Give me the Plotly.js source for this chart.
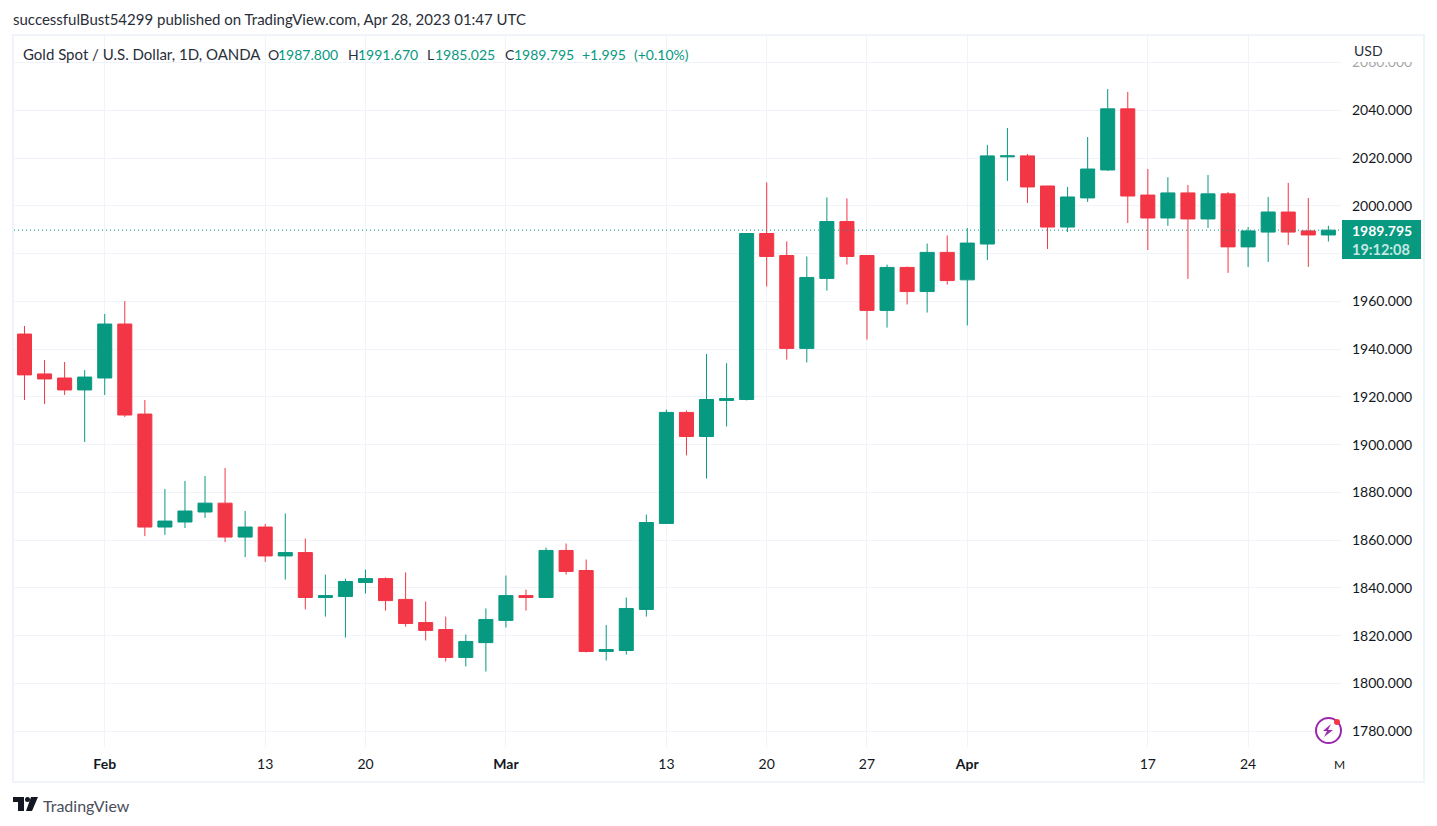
<!DOCTYPE html>
<html>
<head>
<meta charset="utf-8">
<title>Gold Spot / U.S. Dollar</title>
<script src="https://cdn.plot.ly/plotly-3.0.1.min.js"></script>
<style>
  html, body { margin: 0; padding: 0; background: #fff; overflow: hidden; }
</style>
</head>
<body>
<div id="chart"></div>
<script>
// Daily candles
const dates = [
  '2023-01-26','2023-01-27','2023-01-30','2023-01-31','2023-02-01','2023-02-02','2023-02-03','2023-02-06',
  '2023-02-07','2023-02-08','2023-02-09','2023-02-10','2023-02-13','2023-02-14','2023-02-15','2023-02-16',
  '2023-02-17','2023-02-20','2023-02-21','2023-02-22','2023-02-23','2023-02-24','2023-02-27','2023-02-28',
  '2023-03-01','2023-03-02','2023-03-03','2023-03-06','2023-03-07','2023-03-08','2023-03-09','2023-03-10',
  '2023-03-13','2023-03-14','2023-03-15','2023-03-16','2023-03-17','2023-03-20','2023-03-21','2023-03-22',
  '2023-03-23','2023-03-24','2023-03-27','2023-03-28','2023-03-29','2023-03-30','2023-03-31','2023-04-03',
  '2023-04-04','2023-04-05','2023-04-06','2023-04-10','2023-04-11','2023-04-12','2023-04-13','2023-04-14',
  '2023-04-17','2023-04-18','2023-04-19','2023-04-20','2023-04-21','2023-04-24','2023-04-25','2023-04-26',
  '2023-04-27','2023-04-28'
];
const opens = [
  1946.3,1929.6,1927.9,1922.9,1927.9,1950.5,1912.8,1865.5,1867.6,1871.8,1875.5,1861.3,1865.5,1853.4,1854.8,1836.0,
  1836.4,1842.3,1843.9,1835.2,1825.5,1822.6,1810.9,1817.1,1826.4,1836.8,1836.0,1855.7,1847.3,1813.4,1813.8,1831.0,
  1867.0,1913.5,1903.4,1918.5,1918.9,1988.4,1979.2,1940.3,1969.6,1993.4,1979.2,1956.2,1974.2,1964.1,1980.5,1969.0,
  1984.0,2020.5,2020.9,2008.3,1991.1,2003.3,2015.0,2040.6,2004.5,1994.9,2005.4,1994.5,2005.0,1982.8,1989.0,1997.4,
  1989.5,1987.8
];
const highs = [
  1949.7,1935.4,1934.6,1931.2,1954.7,1960.1,1918.7,1881.4,1884.8,1886.9,1890.2,1872.2,1866.8,1871.2,1860.7,1845.6,
  1843.9,1847.7,1844.4,1846.5,1834.3,1828.0,1820.5,1831.4,1845.2,1839.3,1856.9,1858.6,1851.9,1824.5,1836.0,1870.7,
  1914.7,1914.3,1937.9,1934.1,1988.4,2009.8,1985.1,1978.8,2003.5,2003.1,1979.2,1975.4,1974.6,1984.2,1987.6,1990.7,
  2025.5,2032.6,2021.7,2008.3,2007.9,2028.8,2048.9,2047.7,2015.4,2012.0,2008.7,2012.9,2005.8,1991.1,2003.7,2009.6,
  2003.3,1991.67
];
const lows = [
  1918.7,1917.0,1920.8,1901.1,1920.8,1911.6,1861.7,1862.2,1865.1,1869.3,1859.2,1852.9,1850.9,1843.5,1831.0,1828.0,
  1819.2,1837.7,1830.5,1823.8,1818.0,1809.2,1807.1,1805.0,1823.4,1830.5,1836.0,1845.6,1813.0,1809.6,1812.1,1828.0,
  1867.0,1895.5,1885.8,1907.6,1918.5,1966.2,1935.6,1934.4,1964.5,1975.4,1944.0,1949.0,1958.7,1955.3,1967.0,1949.9,
  1977.3,2010.4,2001.2,1981.9,1989.0,2001.6,2014.6,1992.8,1981.5,1991.6,1969.4,1990.7,1971.9,1974.4,1976.5,1983.6,
  1974.4,1985.025
];
const closes = [
  1929.2,1927.5,1922.9,1928.3,1950.5,1912.4,1865.5,1868.0,1872.2,1875.5,1861.3,1865.5,1853.4,1854.8,1836.0,1836.8,
  1842.7,1843.9,1834.7,1825.1,1822.2,1810.9,1817.6,1826.8,1836.8,1836.0,1855.7,1846.9,1813.4,1814.2,1831.4,1867.4,
  1913.5,1903.4,1918.9,1919.3,1988.4,1978.8,1940.3,1970.0,1993.4,1978.8,1956.2,1974.2,1964.1,1980.5,1968.7,1984.4,
  2020.9,2020.9,2007.9,1991.1,2003.7,2015.4,2040.6,2004.1,1994.9,2005.4,1994.5,2005.0,1982.8,1989.5,1997.4,1989.0,
  1987.8,1989.795
];

// Axis labels
const tickDates = ['2023-02-01','2023-02-13','2023-02-20','2023-03-01','2023-03-13','2023-03-20','2023-03-27','2023-04-03','2023-04-17','2023-04-24'];
const tickLabels = ['<b>Feb</b>','13','20','<b>Mar</b>','13','20','27','<b>Apr</b>','17','24'];
const priceTicks = [1780,1800,1820,1840,1860,1880,1900,1920,1940,1960,1980,2000,2020,2040,2060];
// 1980 sits under the last price tag, so it has a grid line and no label
const priceLabels = ['1780.000','1800.000','1820.000','1840.000','1860.000','1880.000','1900.000','1920.000','1940.000','1960.000','','2000.000','2020.000','2040.000','2060.000'];
const lastPrice = 1989.795;

const GREEN = '#089981', RED = '#F23645', GRID = '#f0f3fa', INK = '#131722', TEXT = '#2a2e39';
const FONT = 'Lato, "Noto Sans", sans-serif';
const W = 1437, H = 826;
const plotL = 14, plotR = 1341, plotT = 36, plotB = 747;

// page pixels to paper coordinates, for the furniture around the plot
const px = x => (x - plotL) / (plotR - plotL);
const py = y => (plotB - y) / (plotB - plotT);

function box(x0, y0, x1, y1, style) {
  return Object.assign({type: 'rect', xref: 'paper', yref: 'paper', x0: px(x0), x1: px(x1), y0: py(y0), y1: py(y1), layer: 'above', line: {width: 0}}, style);
}

function label(text, x, y, size, color, anchor) {
  return {text: text, xref: 'paper', yref: 'paper', x: px(x), y: py(y), xanchor: anchor || 'left', yanchor: 'middle',
          showarrow: false, font: {family: FONT, size: size, color: color}, borderpad: 0, borderwidth: 0};
}

function polygon(points, color) {
  const d = points.map((p, i) => (i ? 'L' : 'M') + px(p[0]) + ',' + py(p[1])).join(' ') + ' Z';
  return {type: 'path', xref: 'paper', yref: 'paper', path: d, fillcolor: color, line: {width: 0}, layer: 'above'};
}

const shapes = [
  // hide most of the top axis label, under the USD header
  box(1342, 37, 1423, 62, {fillcolor: '#fff'}),
  box(1342, 62, 1423, 69, {fillcolor: 'rgba(255,255,255,0.6)'}),
  // frame
  {type: 'rect', xref: 'paper', yref: 'paper', x0: px(13), x1: px(1424), y0: py(35), y1: py(782), line: {color: GRID, width: 2}, layer: 'above'},
  // last price line and its tag
  {type: 'line', xref: 'paper', yref: 'y', x0: 0, x1: 1, y0: lastPrice, y1: lastPrice, layer: 'above', line: {color: GREEN, width: 1, dash: '1px,3px'}},
  box(1342, 220, 1421, 259, {fillcolor: GREEN}),
  // bolt badge
  {type: 'circle', xref: 'paper', yref: 'paper', x0: px(1316), x1: px(1341), y0: py(718), y1: py(743), fillcolor: '#fff', line: {color: '#9c27b0', width: 2}, layer: 'above'},
  polygon([[1331, 724], [1323, 731], [1327, 731], [1324, 737], [1333, 730], [1328, 730]], '#9c27b0'),
  {type: 'circle', xref: 'paper', yref: 'paper', x0: px(1334), x1: px(1340), y0: py(719), y1: py(725), fillcolor: RED, line: {width: 0}, layer: 'above'},
  // logo
  polygon([[13, 797], [24, 797], [24, 811], [18, 811], [18, 802], [13, 802]], INK),
  polygon([[31, 797], [38, 797], [32, 811], [26, 811]], INK),
  {type: 'circle', xref: 'paper', yref: 'paper', x0: px(25), x1: px(30), y0: py(797), y1: py(802), fillcolor: INK, line: {width: 0}, layer: 'above'}
];

const annotations = [
  label('successfulBust54299 published on TradingView.com, Apr 28, 2023 01:47 UTC', 13, 19, 15, TEXT),
  label('Gold Spot / U.S. Dollar, 1D, OANDA', 23, 54, 15, TEXT),
  label('O', 268, 54, 14, TEXT),
  label('1987.800', 278, 54, 14, GREEN),
  label('H', 348, 54, 14, TEXT),
  label('1991.670', 358, 54, 14, GREEN),
  label('L', 427, 54, 14, TEXT),
  label('1985.025', 435, 54, 14, GREEN),
  label('C', 505, 54, 14, TEXT),
  label('1989.795', 514, 54, 14, GREEN),
  label('+1.995', 582, 54, 14, GREEN),
  label('(+0.10%)', 634, 54, 14, GREEN),
  label('USD', 1354, 50, 14, TEXT),
  label('<b>1989.795</b>', 1352, 230, 14, '#ffffff'),
  label('<b>19:12:08</b>', 1352, 249, 14.5, '#c4e8e1'),
  label('M', 1334, 764, 12, INK),
  label('TradingView', 43, 805, 16, '#4a4e5a')
];

const trace = {
  type: 'candlestick',
  x: dates,
  open: opens,
  high: highs,
  low: lows,
  close: closes,
  increasing: {line: {color: GREEN, width: 1}, fillcolor: GREEN},
  decreasing: {line: {color: RED, width: 1}, fillcolor: RED},
  whiskerwidth: 0,
  hoverinfo: 'skip',
  showlegend: false
};

const layout = {
  width: W,
  height: H,
  autosize: false,
  margin: {l: plotL, r: W - plotR, t: plotT, b: H - plotB, pad: 0},
  paper_bgcolor: '#fff',
  plot_bgcolor: '#fff',
  font: {family: FONT, size: 14, color: INK},
  showlegend: false,
  boxgap: 0.3,
  boxgroupgap: 0,
  xaxis: {
    type: 'category',
    categoryorder: 'array',
    categoryarray: dates,
    range: [-0.523, 65.63],
    rangeslider: {visible: false},
    tickmode: 'array',
    tickvals: tickDates,
    ticktext: tickLabels,
    showgrid: true,
    gridcolor: GRID,
    gridwidth: 1,
    zeroline: false,
    showline: false,
    ticks: '',
    tickangle: 0,
    ticklabelstandoff: 7,
    tickfont: {family: FONT, size: 14, color: INK}
  },
  yaxis: {
    side: 'right',
    range: [1773.4, 2071.1],
    tickmode: 'array',
    tickvals: priceTicks,
    ticktext: priceLabels,
    showgrid: true,
    gridcolor: GRID,
    gridwidth: 1,
    zeroline: false,
    showline: false,
    ticks: '',
    ticklabelstandoff: 10,
    tickfont: {family: FONT, size: 14, color: INK}
  },
  shapes: shapes,
  annotations: annotations
};

Plotly.newPlot('chart', [trace], layout, {displayModeBar: false, staticPlot: true});
</script>
</body>
</html>
